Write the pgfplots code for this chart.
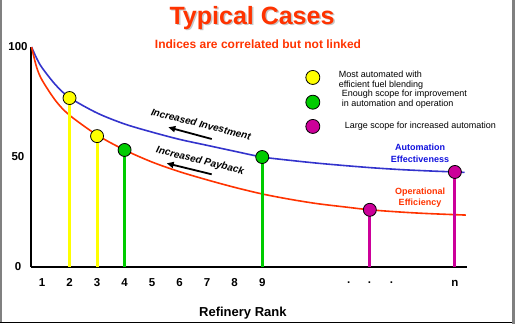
\documentclass[border=0pt]{standalone}
\usepackage{pgfplots}
\pgfplotsset{compat=1.18}
\usepackage{fontspec}
\setmainfont{Liberation Sans}
\usetikzlibrary{arrows.meta}
\definecolor{tred}{HTML}{FF3300}
\definecolor{tblue}{HTML}{3333CC}
\definecolor{lblue}{HTML}{1111DD}
\definecolor{tyellow}{HTML}{FFFF00}
\definecolor{tgreen}{HTML}{00CC00}
\definecolor{tmag}{HTML}{CC0099}
\begin{document}
\begin{tikzpicture}
\path[use as bounding box] (0pt,0pt) rectangle (516pt,325pt);
% frame
\draw[gray, line width=1.5pt] (0.75pt,2.5pt) -- (0.75pt,325pt);
\draw[gray, line width=3pt] (513.5pt,1.5pt) -- (513.5pt,325pt);
\draw[black, line width=1.5pt] (0pt,2.5pt) -- (512pt,2.5pt);
% titles
\node[text=gray!45, font=\bfseries\fontsize{25}{30}\selectfont] at (253.5pt,305.5pt) {Typical Cases};
\node[text=tred, font=\bfseries\fontsize{25}{30}\selectfont] at (252pt,307pt) {Typical Cases};
\node[text=tred, font=\bfseries\fontsize{12}{14}\selectfont] at (258pt,281pt) {Indices are correlated but not linked};
\begin{axis}[
  at={(31pt,58pt)}, anchor=south west, scale only axis,
  width=436pt, height=220pt,
  xmin=0.6, xmax=16.44, ymin=0, ymax=100,
  clip=false,
  axis x line=bottom, axis y line=left,
  axis line style={-, line width=1.5pt, black},
  major tick length=0pt,
  xtick={1,2,3,4,5,6,7,8,9,12.15,12.91,13.71,16},
  xticklabels={1,2,3,4,5,6,7,8,9,·,·,·,n},
  ytick={0,50,100},
  /pgf/number format/assume math mode=true,
  xticklabel style={font=\bfseries\fontsize{11.5}{12}\selectfont, anchor=base, yshift=-19.5pt},
  yticklabel style={font=\bfseries\fontsize{11.5}{12}\selectfont, anchor=center, xshift=-13pt},
  xlabel={Refinery Rank},
  xlabel style={font=\bfseries\fontsize{13}{15}\selectfont, at={(axis description cs:0.486,0)}, anchor=center, yshift=-46pt},
  legend style={at={(rel axis cs:0.623,0.912)}, anchor=north west, draw=none, fill=none,
    font=\fontsize{9}{10}\selectfont, row sep=1pt,
    /tikz/every odd column/.append style={column sep=17pt}},
  legend cell align=left,
]
\addplot[tblue, line width=1.6pt, smooth, forget plot] coordinates {
(0.62,100)(0.8,95)(1,90.6)(1.5,82.7)(2,77)(3,70)(4,65)(5,61.3)(6,58)(7,55.3)(8,52.6)(9,50)(10,48.5)(11,47.2)(12,46.1)(13,45.1)(14,44.3)(15,43.7)(16,43.2)(16.35,43)};
\addplot[tred, line width=1.6pt, smooth, forget plot] coordinates {
(0.62,100)(0.8,91)(1,85)(1.5,75.5)(2,69)(3,60)(4,53.2)(5,47.7)(6,43.3)(7,39.6)(8,36.2)(9,33.2)(10,30.8)(11,28.8)(12,27.3)(12.91,26)(14,25)(15,24.3)(16.4,23.6)};
\addplot[ycomb, tyellow, line width=3pt, forget plot, mark=*, mark size=6.5pt, mark options={solid, draw=black, fill=tyellow, line width=0.8pt}] coordinates {(2,76.8)(3,59.5)};
\addplot[ycomb, tgreen, line width=3pt, forget plot, mark=*, mark size=6.5pt, mark options={solid, draw=black, fill=tgreen, line width=0.8pt}] coordinates {(4,53.2)(9,50)};
\addplot[ycomb, tmag, line width=3pt, forget plot, mark=*, mark size=6.5pt, mark options={solid, draw=black, fill=tmag, line width=0.8pt}] coordinates {(12.91,26)(16,43.2)};
\addlegendimage{only marks, mark=*, mark size=7pt, mark options={draw=black, fill=tyellow, line width=0.8pt}}
\addlegendentry{\begin{tabular}{@{}l@{}}Most automated with\\efficient fuel blending\end{tabular}}
\addlegendimage{only marks, mark=*, mark size=7pt, yshift=-6pt, mark options={draw=black, fill=tgreen, line width=0.8pt}}
\addlegendentry{\begin{tabular}{@{\hspace{3pt}}l@{}}Enough scope for improvement\\in automation and operation\end{tabular}}
\addlegendimage{only marks, mark=*, mark size=7pt, yshift=-5pt, mark options={draw=black, fill=tmag, line width=0.8pt}}
\addlegendentry{\rule{0pt}{17pt}\begin{tabular}{@{\hspace{6pt}}l@{}}Large scope for increased automation\end{tabular}}
\end{axis}
% annotations
\node[rotate=-14, font=\bfseries\itshape\fontsize{10}{12}\selectfont] at (201pt,201pt) {Increased Investment};
\draw[-{Triangle[length=7pt,width=6pt]}, line width=1.8pt] (211.7pt,186pt) -- (168.3pt,197.7pt);
\node[rotate=-14, font=\bfseries\itshape\fontsize{10}{12}\selectfont] at (200pt,164pt) {Increased Payback};
\draw[-{Triangle[length=7pt,width=6pt]}, line width=1.8pt] (211.7pt,150.7pt) -- (166.7pt,161.7pt);
\node[text=lblue, align=center, font=\bfseries\fontsize{9}{12}\selectfont] at (420pt,172pt) {Automation\\Effectiveness};
\node[text=tred, align=center, font=\bfseries\fontsize{9}{11.5}\selectfont] at (420pt,127.5pt) {Operational\\Efficiency};
\end{tikzpicture}
\end{document}
